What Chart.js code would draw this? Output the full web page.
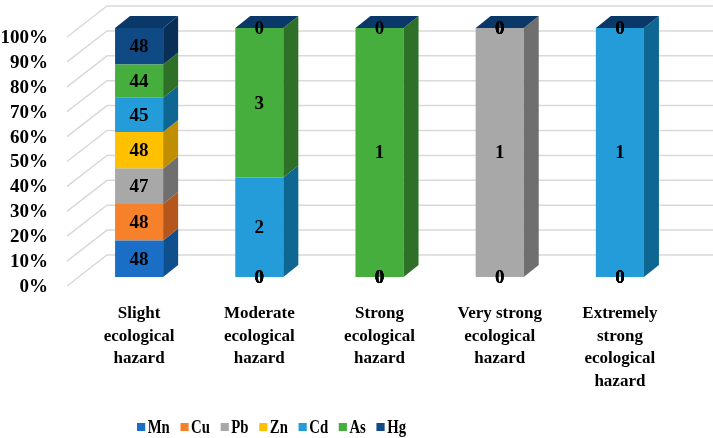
<!DOCTYPE html>
<html>
<head>
<meta charset="utf-8">
<script src="https://cdn.jsdelivr.net/npm/chart.js@4/dist/chart.umd.min.js"></script>
<style>
  html, body { margin:0; padding:0; background:#fff; }
  #wrap { position:relative; width:713px; height:438px; }
  #legend { position:absolute; left:137px; top:416px; display:flex; align-items:center; white-space:nowrap;
            transform:scaleX(0.82); transform-origin:0 50%;
            font-family:"Liberation Serif", "Times New Roman", serif; font-weight:bold; font-size:18px; line-height:22px; color:#000; }
  #legend .item { display:flex; align-items:center; margin-right:13px; }
  #legend .box { width:10px; height:8px; margin-right:3px; display:inline-block; }
</style>
</head>
<body>
<div id="wrap">
  <canvas id="c" width="713" height="438"></canvas>
  <div id="legend"></div>
</div>
<script>
// ---- data ----
const categories = [
  ["Slight", "ecological", "hazard"],
  ["Moderate", "ecological", "hazard"],
  ["Strong", "ecological", "hazard"],
  ["Very strong", "ecological", "hazard"],
  ["Extremely", "strong", "ecological", "hazard"]
];
const seriesNames = ["Mn", "Cu", "Pb", "Zn", "Cd", "As", "Hg"];
const mnValues = [48, 0, 0, 0, 0];
const cuValues = [48, 0, 0, 0, 0];
const pbValues = [47, 0, 0, 1, 0];
const znValues = [48, 0, 0, 0, 0];
const cdValues = [45, 2, 0, 0, 1];
const asValues = [44, 3, 1, 0, 0];
const hgValues = [48, 0, 0, 0, 0];
const yTicks = [0, 10, 20, 30, 40, 50, 60, 70, 80, 90, 100];

// ---- styles ----
const frontColors = ["#1a6ec6", "#f7812a", "#a8a8a8", "#ffc000", "#239cd9", "#45ae3c", "#104a84"];
const sideColors  = ["#0f4f8e", "#b5561c", "#6f6f6f", "#bf8f00", "#0d6792", "#2e7027", "#0a2f57"];
const topColor = "#0a3868";
const DX = 15, DY = 12;

const raw = [mnValues, cuValues, pbValues, znValues, cdValues, asValues, hgValues];
const totals = categories.map((_, i) => raw.reduce((s, a) => s + a[i], 0));
const datasets = raw.map((arr, k) => ({
  label: seriesNames[k],
  data: arr.map((v, i) => totals[i] ? v / totals[i] * 100 : 0),
  rawValues: arr,
  backgroundColor: frontColors[k],
  sideColor: sideColors[k],
  borderWidth: 0,
  barPercentage: 0.8,
  categoryPercentage: 0.5
}));

const SERIF = '"Liberation Serif", "Times New Roman", serif';

const wallPlugin = {
  id: 'wall',
  beforeDatasetsDraw(chart) {
    const { ctx, chartArea, scales } = chart;
    const y = scales.y;
    ctx.save();
    ctx.strokeStyle = '#d9d9d9';
    ctx.lineWidth = 1.5;
    yTicks.forEach(v => {
      const p = y.getPixelForValue(v);
      ctx.beginPath();
      ctx.moveTo(chartArea.left - 12, p + 9);
      ctx.lineTo(chartArea.left + 28, p - 22);
      ctx.lineTo(chart.width, p - 22);
      ctx.stroke();
    });
    ctx.restore();
  }
};

const boxPlugin = {
  id: 'box3d',
  afterDatasetsDraw(chart) {
    const { ctx } = chart;
    const n = chart.data.datasets.length;
    ctx.save();
    // right side faces
    chart.data.datasets.forEach((ds, k) => {
      const meta = chart.getDatasetMeta(k);
      meta.data.forEach(el => {
        const { x, y, base, width } = el.getProps(['x', 'y', 'base', 'width'], true);
        if (Math.abs(base - y) < 0.1) return;
        const xr = x + width / 2;
        ctx.fillStyle = ds.sideColor;
        ctx.beginPath();
        ctx.moveTo(xr, y);
        ctx.lineTo(xr + DX, y - DY);
        ctx.lineTo(xr + DX, base - DY);
        ctx.lineTo(xr, base);
        ctx.closePath();
        ctx.fill();
      });
    });
    // top faces
    const topMeta = chart.getDatasetMeta(n - 1);
    topMeta.data.forEach(el => {
      const { x, y, width } = el.getProps(['x', 'y', 'width'], true);
      const xl = x - width / 2, xr = x + width / 2;
      ctx.fillStyle = topColor;
      ctx.beginPath();
      ctx.moveTo(xl, y);
      ctx.lineTo(xl + DX, y - DY);
      ctx.lineTo(xr + DX, y - DY);
      ctx.lineTo(xr, y);
      ctx.closePath();
      ctx.fill();
    });
    // data labels
    ctx.fillStyle = '#000';
    ctx.font = 'bold 19px ' + SERIF;
    ctx.textAlign = 'center';
    ctx.textBaseline = 'middle';
    chart.data.datasets.forEach((ds, k) => {
      const meta = chart.getDatasetMeta(k);
      meta.data.forEach((el, i) => {
        const { x, y, base } = el.getProps(['x', 'y', 'base'], true);
        ctx.fillText(String(ds.rawValues[i]), x, (y + base) / 2 + 1);
      });
    });
    ctx.restore();
  }
};

new Chart(document.getElementById('c'), {
  type: 'bar',
  data: { labels: categories, datasets },
  options: {
    responsive: false,
    animation: false,
    layout: { padding: { top: 28, right: 33, bottom: 47, left: 0 } },
    plugins: { legend: { display: false }, tooltip: { enabled: false } },
    scales: {
      x: {
        stacked: true,
        grid: { display: false, drawTicks: false },
        border: { display: false },
        afterFit(axis) { axis.height = 114; axis.paddingLeft = 0; axis.paddingRight = 0; },
        ticks: {
          color: '#000',
          padding: 25,
          maxRotation: 0,
          autoSkip: false,
          font: { family: SERIF, weight: 'bold', size: 17, lineHeight: 1.34 }
        }
      },
      y: {
        stacked: true,
        min: 0, max: 100,
        afterBuildTicks(axis) { axis.ticks = yTicks.map(v => ({ value: v })); },
        afterFit(axis) { axis.width = 79; axis.paddingTop = 0; axis.paddingBottom = 0; },
        grid: { display: false, drawTicks: false },
        border: { display: false },
        ticks: {
          color: '#000',
          padding: 31,
          labelOffset: 10,
          autoSkip: false,
          font: { family: SERIF, weight: 'bold', size: 19 },
          callback: v => v + '%'
        }
      }
    }
  },
  plugins: [wallPlugin, boxPlugin]
});

// HTML legend built from the series arrays
const leg = document.getElementById('legend');
seriesNames.forEach((name, k) => {
  const it = document.createElement('span');
  it.className = 'item';
  const b = document.createElement('span');
  b.className = 'box';
  b.style.background = frontColors[k];
  it.appendChild(b);
  it.appendChild(document.createTextNode(name));
  leg.appendChild(it);
});
</script>
</body>
</html>
